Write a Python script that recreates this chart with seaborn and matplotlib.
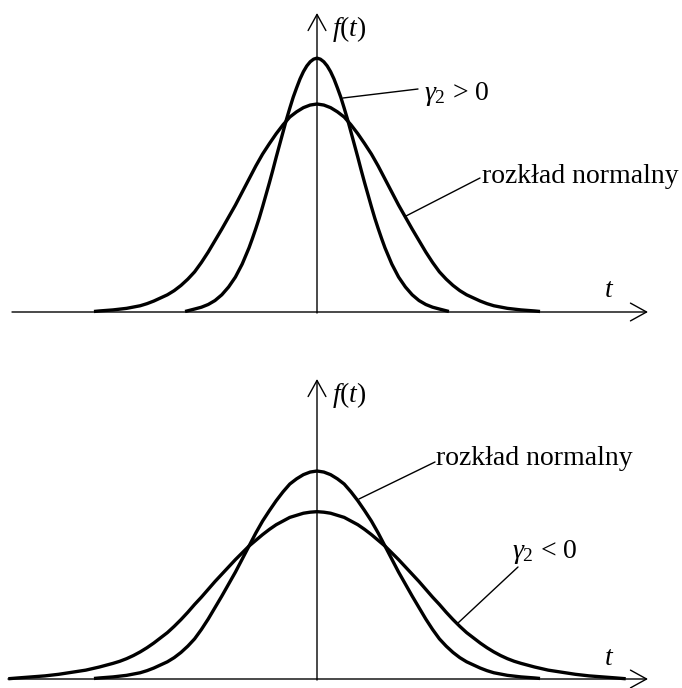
"""
Two sketches of a density f(t) against the normal curve:
excess kurtosis gamma_2 > 0 (top) and gamma_2 < 0 (bottom).
"""
import matplotlib
matplotlib.use("Agg")
import matplotlib.pyplot as plt
import pandas as pd
import seaborn as sns

# half profiles (t >= 0), curves are symmetric about t = 0
T_NORMAL = [0.0, 0.1, 0.2, 0.3, 0.4, 0.5, 0.6, 0.7, 0.8, 0.9, 1.0,
            1.1, 1.2, 1.3, 1.4, 1.5, 1.6, 1.7, 1.8, 1.9, 2.0,
            2.1, 2.2, 2.3, 2.4, 2.5, 2.6, 2.7, 2.8, 2.9, 3.0, 3.1, 3.2, 3.28]
F_NORMAL = [0.399, 0.397, 0.392, 0.384, 0.374, 0.359, 0.342, 0.323, 0.303,
            0.280, 0.255, 0.230, 0.205, 0.182, 0.159, 0.137, 0.115, 0.095,
            0.077, 0.063, 0.051, 0.041, 0.033, 0.027, 0.021, 0.016, 0.012,
            0.0095, 0.007, 0.0055, 0.004, 0.003, 0.002, 0.001]

T_LEPTO = [0.0, 0.05, 0.1, 0.15, 0.2, 0.25, 0.3, 0.35, 0.4, 0.45, 0.5,
           0.55, 0.6, 0.65, 0.7, 0.75, 0.8, 0.85, 0.9, 0.95, 1.0,
           1.1, 1.2, 1.3, 1.4, 1.5, 1.6, 1.7, 1.8, 1.94]
F_LEPTO = [0.487, 0.485, 0.480, 0.472, 0.461, 0.447, 0.430, 0.412, 0.391,
           0.369, 0.345, 0.321, 0.297, 0.272, 0.248, 0.225, 0.202, 0.180,
           0.160, 0.141, 0.123, 0.092, 0.067, 0.048, 0.033, 0.022, 0.0144,
           0.0092, 0.0057, 0.001]

T_PLATY = [0.0, 0.1, 0.2, 0.3, 0.4, 0.5, 0.6, 0.7, 0.8, 0.9, 1.0,
           1.1, 1.2, 1.3, 1.4, 1.5, 1.6, 1.7, 1.8, 1.9, 2.0,
           2.1, 2.2, 2.3, 2.4, 2.5, 2.6, 2.7, 2.8, 2.9, 3.0,
           3.2, 3.4, 3.6, 3.8, 4.0, 4.2, 4.4, 4.54]
F_PLATY = [0.321, 0.320, 0.318, 0.314, 0.310, 0.303, 0.296, 0.287, 0.277,
           0.266, 0.255, 0.242, 0.229, 0.215, 0.201, 0.187, 0.172, 0.157,
           0.143, 0.128, 0.114, 0.101, 0.089, 0.079, 0.069, 0.060, 0.052,
           0.045, 0.039, 0.034, 0.030, 0.023, 0.017, 0.013, 0.009, 0.006,
           0.004, 0.002, 0.0005]

LABEL_NORMAL = "rozkład normalny"
LABEL_LEPTO = r"$\gamma_2$ > 0"
LABEL_PLATY = r"$\gamma_2$ < 0"
LABEL_F = r"$f(t)$"
LABEL_T = r"$t$"

# layout, in pixels of the 682x688 canvas
W, H = 682, 688
X0 = 317          # pixel column of t = 0
PX_T = 68.0       # pixels per unit of t
PX_F = 521.3      # pixels per unit of f


def full_curve(t_half, f_half):
    t = [-v for v in reversed(t_half[1:])] + list(t_half)
    f = list(reversed(f_half[1:])) + list(f_half)
    return pd.DataFrame({"t": t, "f": f})


def px_t(x):
    return (x - X0) / PX_T


def px_f(y, base):
    return (base - y) / PX_F


def make_panel(fig, top, bottom, base):
    ax = fig.add_axes([0, 1 - bottom / H, 1, (bottom - top) / H])
    ax.set_xlim(px_t(0), px_t(W))
    ax.set_ylim(px_f(bottom, base), px_f(top, base))
    ax.set_axis_off()
    return ax


def draw_axes(ax, x_start, x_tip, y_tip, base):
    arrow = dict(arrowstyle="->,head_length=0.58,head_width=0.32",
                 lw=1.0, color="black", shrinkA=0, shrinkB=0,
                 mutation_scale=20)
    ax.annotate("", xy=(px_t(x_tip), 0), xytext=(px_t(x_start), 0),
                arrowprops=arrow)
    ax.annotate("", xy=(0, px_f(y_tip, base)), xytext=(0, -0.002),
                arrowprops=arrow)


def draw_curve(ax, df):
    sns.lineplot(data=df, x="t", y="f", ax=ax, color="black", lw=2.4,
                 estimator=None, sort=False, solid_capstyle="butt",
                 solid_joinstyle="round")


def leader(ax, p0, p1, base):
    ax.plot([px_t(p0[0]), px_t(p1[0])], [px_f(p0[1], base), px_f(p1[1], base)],
            color="black", lw=1.0)


sns.set_theme(style="white")
plt.rcParams["font.family"] = ["Liberation Serif", "DejaVu Serif"]
plt.rcParams["mathtext.fontset"] = "custom"
plt.rcParams["mathtext.rm"] = "Liberation Serif"
plt.rcParams["mathtext.it"] = "Liberation Serif:italic"
plt.rcParams["mathtext.bf"] = "Liberation Serif:bold"

fig = plt.figure(figsize=(W / 100, H / 100), dpi=100)
txt = dict(fontsize=20, color="black", ha="left", va="baseline")

# top panel: gamma_2 > 0
base = 312
ax = make_panel(fig, 0, 340, base)
draw_axes(ax, 12, 648, 13, base)
draw_curve(ax, full_curve(T_NORMAL, F_NORMAL))
draw_curve(ax, full_curve(T_LEPTO, F_LEPTO))
leader(ax, (343, 98), (418, 89), base)
leader(ax, (406, 216), (480, 178), base)
ax.text(px_t(332), px_f(36, base), LABEL_F, **txt)
ax.text(px_t(424), px_f(100, base), LABEL_LEPTO, **txt)
ax.text(px_t(482), px_f(183, base), LABEL_NORMAL, **txt)
ax.text(px_t(604), px_f(297, base), LABEL_T, **txt)

# bottom panel: gamma_2 < 0
base = 679
ax = make_panel(fig, 340, 688, base)
draw_axes(ax, 8, 648, 379, base)
draw_curve(ax, full_curve(T_NORMAL, F_NORMAL))
draw_curve(ax, full_curve(T_PLATY, F_PLATY))
leader(ax, (359, 499), (435, 462), base)
leader(ax, (458, 623), (518, 567), base)
ax.text(px_t(332), px_f(402, base), LABEL_F, **txt)
ax.text(px_t(436), px_f(465, base), LABEL_NORMAL, **txt)
ax.text(px_t(512), px_f(558, base), LABEL_PLATY, **txt)
ax.text(px_t(604), px_f(665, base), LABEL_T, **txt)

fig.savefig("out.png", dpi=100, facecolor="white")
